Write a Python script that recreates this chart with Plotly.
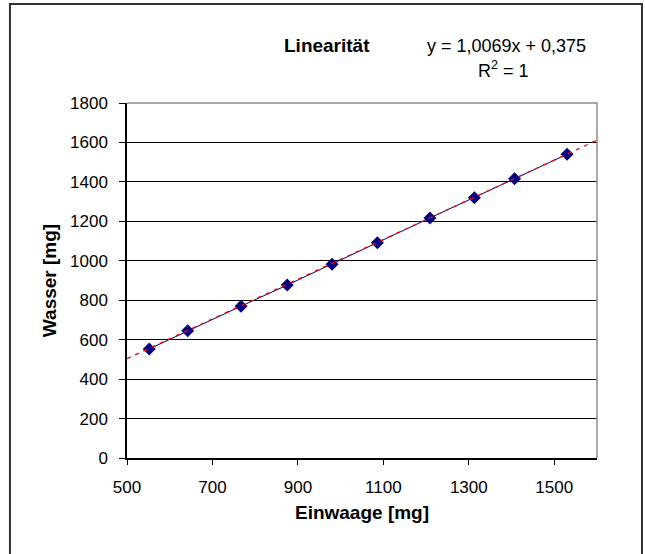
import plotly.graph_objects as go

# measured points (Einwaage vs. Wasser)
einwaage = [552, 642, 767, 875, 980, 1086, 1209, 1313, 1407, 1530]
wasser = [553, 645, 770, 877, 982, 1092, 1217, 1320, 1416, 1540]

# linear trendline ends (y = 1,0069x + 0,375), drawn over 500..1600
trend_x = [500, 1600]
trend_y = [503.8, 1611.4]

x_ticks = [500, 700, 900, 1100, 1300, 1500]
y_ticks = [0, 200, 400, 600, 800, 1000, 1200, 1400, 1600, 1800]

_FONT = "Liberation Sans, Arial, sans-serif"
_NAVY = "#000080"
_RED = "#ff0000"

fig = go.Figure()
fig.add_trace(go.Scatter(
    x=einwaage, y=wasser,
    mode="lines+markers",
    line=dict(color=_NAVY, width=1),
    marker=dict(symbol="diamond", size=10, color=_NAVY),
    showlegend=False,
))
fig.add_trace(go.Scatter(
    x=trend_x, y=trend_y,
    mode="lines",
    line=dict(color=_RED, width=1.3, dash="4px,5px"),
    showlegend=False,
))

# plot area border (top / right grey)
fig.add_shape(type="path", xref="paper", yref="paper",
              path="M 0,1 L 1,1 L 1,0", line=dict(color="#8c8c8c", width=1.5),
              layer="above")
# outer chart frame
fig.add_shape(type="rect", xref="paper", yref="paper",
              x0=-0.249, x1=1.0957, y0=-0.4, y1=1.279,
              line=dict(color="#333333", width=2), layer="below")

# title + trendline label
fig.add_annotation(text="<b>Linearität</b>", xref="paper", yref="paper",
                   x=0.4255, y=1.1606, xanchor="center", yanchor="middle",
                   showarrow=False,
                   font=dict(family=_FONT, size=19, color="black"))
fig.add_annotation(text="y = 1,0069x + 0,375", xref="paper", yref="paper",
                   x=0.8085, y=1.1606, xanchor="center", yanchor="middle",
                   showarrow=False,
                   font=dict(family=_FONT, size=18, color="black"))
fig.add_annotation(text="R<sup>2</sup> = 1", xref="paper", yref="paper",
                   x=0.80, y=1.093, xanchor="center", yanchor="middle",
                   showarrow=False,
                   font=dict(family=_FONT, size=18, color="black"))

fig.update_xaxes(
    range=[500, 1600], tickvals=x_ticks,
    showgrid=False, zeroline=False,
    showline=True, linecolor="black", linewidth=1.5,
    ticks="outside", ticklen=5, tickcolor="black", tickwidth=1,
    ticklabelstandoff=8,
    tickfont=dict(family=_FONT, size=17, color="black"),
    title=dict(text="<b>Einwaage [mg]</b>", standoff=10,
               font=dict(family=_FONT, size=19, color="black")),
)
fig.update_yaxes(
    range=[0, 1800], tickvals=y_ticks,
    showgrid=True, gridcolor="black", gridwidth=1.3, zeroline=False,
    showline=True, linecolor="black", linewidth=1.5,
    ticks="outside", ticklen=6, tickcolor="black", tickwidth=1,
    ticklabelstandoff=8,
    tickfont=dict(family=_FONT, size=17, color="black"),
    title=dict(text="<b>Wasser [mg]</b>", standoff=8,
               font=dict(family=_FONT, size=19, color="black")),
)

fig.update_layout(
    width=645, height=554,
    paper_bgcolor="white", plot_bgcolor="white",
    margin=dict(l=127, r=48, t=103, b=96),
    font=dict(family=_FONT, color="black"),
)

fig.write_html("out.html", config={"displayModeBar": False},
               post_script="document.body.style.margin = '0';")
